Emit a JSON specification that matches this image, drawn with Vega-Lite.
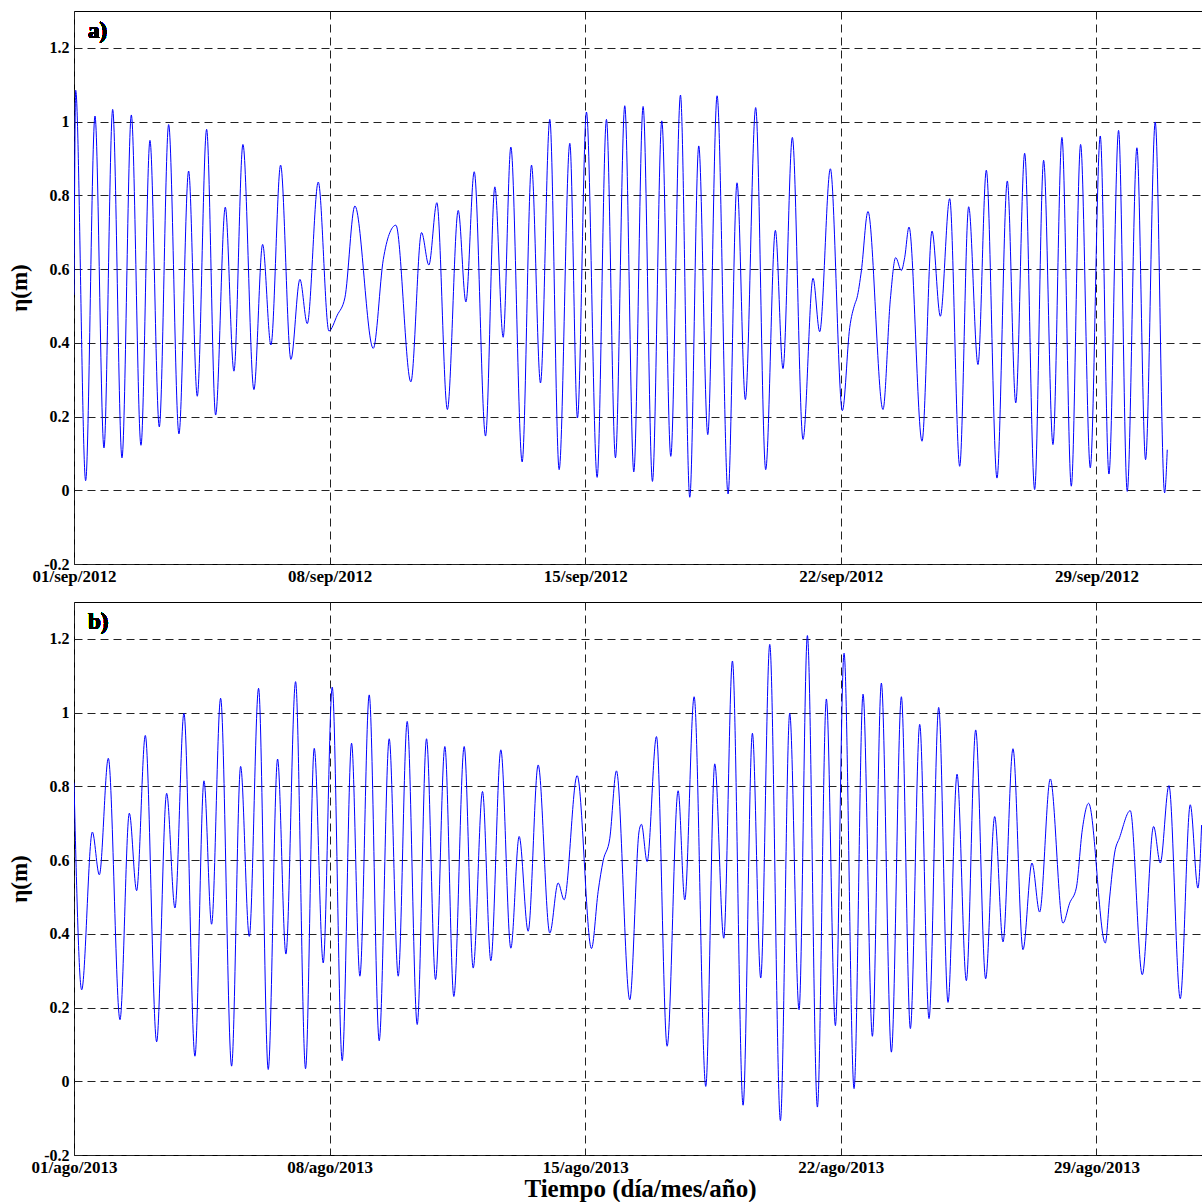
{
  "$schema": "https://vega.github.io/schema/vega-lite/v6.json",
  "padding": {"left": 8, "top": 10, "right": 0, "bottom": 0},
  "bounds": "flush",
  "spacing": 38,
  "background": "white",
  "config": {
    "view": {"stroke": "black", "strokeWidth": 1},
    "font": "Liberation Serif",
    "axis": {
      "labelFont": "Liberation Serif", "labelFontWeight": "bold", "labelFontSize": 16, "labelColor": "black",
      "titleFont": "Liberation Serif", "titleFontWeight": "bold", "titleFontSize": 23, "titleColor": "black",
      "grid": true, "gridColor": "#222", "gridDash": [8, 5], "gridWidth": 1,
      "domain": false, "ticks": false, "labelFlush": false, "labelOverlap": false
    },
    "axisX": {"labelPadding": 4, "titlePadding": 1, "titleFontSize": 25, "labelFontSize": 17, "labelFontWeight": "bold", "labelFont": "Liberation Serif"},
    "axisY": {"labelPadding": 5, "titlePadding": 12, "labelFontSize": 16, "labelFontWeight": "bold", "labelFont": "Liberation Serif"}
  },
  "datasets": {
    "a": [
      {"dia": 1.000, "eta": 0.53}, {"dia": 1.046, "eta": 1.085}, {"dia": 1.319, "eta": 0.026}, {"dia": 1.575, "eta": 1.015},
      {"dia": 1.821, "eta": 0.115}, {"dia": 2.059, "eta": 1.033}, {"dia": 2.314, "eta": 0.088}, {"dia": 2.570, "eta": 1.018},
      {"dia": 2.834, "eta": 0.122}, {"dia": 3.080, "eta": 0.949}, {"dia": 3.336, "eta": 0.172}, {"dia": 3.592, "eta": 0.992},
      {"dia": 3.874, "eta": 0.153}, {"dia": 4.139, "eta": 0.866}, {"dia": 4.376, "eta": 0.255}, {"dia": 4.632, "eta": 0.979},
      {"dia": 4.878, "eta": 0.204}, {"dia": 5.143, "eta": 0.768}, {"dia": 5.380, "eta": 0.323}, {"dia": 5.626, "eta": 0.938},
      {"dia": 5.927, "eta": 0.273}, {"dia": 6.165, "eta": 0.667}, {"dia": 6.393, "eta": 0.394}, {"dia": 6.658, "eta": 0.882},
      {"dia": 6.940, "eta": 0.355}, {"dia": 7.187, "eta": 0.572}, {"dia": 7.388, "eta": 0.452}, {"dia": 7.689, "eta": 0.836},
      {"dia": 7.981, "eta": 0.432}, {"dia": 8.210, "eta": 0.475}, {"dia": 8.418, "eta": 0.522}, {"dia": 8.692, "eta": 0.771},
      {"dia": 9.195, "eta": 0.385}, {"dia": 9.470, "eta": 0.626}, {"dia": 9.630, "eta": 0.694}, {"dia": 9.815, "eta": 0.719},
      {"dia": 10.225, "eta": 0.294}, {"dia": 10.517, "eta": 0.699}, {"dia": 10.718, "eta": 0.611}, {"dia": 10.937, "eta": 0.780},
      {"dia": 11.225, "eta": 0.219}, {"dia": 11.522, "eta": 0.759}, {"dia": 11.732, "eta": 0.511}, {"dia": 11.960, "eta": 0.864},
      {"dia": 12.270, "eta": 0.147}, {"dia": 12.525, "eta": 0.823}, {"dia": 12.753, "eta": 0.415}, {"dia": 12.963, "eta": 0.931},
      {"dia": 13.273, "eta": 0.077}, {"dia": 13.529, "eta": 0.882}, {"dia": 13.775, "eta": 0.291}, {"dia": 14.030, "eta": 1.006},
      {"dia": 14.286, "eta": 0.056}, {"dia": 14.578, "eta": 0.941}, {"dia": 14.788, "eta": 0.196}, {"dia": 15.034, "eta": 1.026},
      {"dia": 15.326, "eta": 0.035}, {"dia": 15.581, "eta": 1.006}, {"dia": 15.828, "eta": 0.088}, {"dia": 16.083, "eta": 1.043},
      {"dia": 16.330, "eta": 0.050}, {"dia": 16.585, "eta": 1.041}, {"dia": 16.841, "eta": 0.024}, {"dia": 17.097, "eta": 1.002},
      {"dia": 17.343, "eta": 0.092}, {"dia": 17.608, "eta": 1.072}, {"dia": 17.863, "eta": -0.019}, {"dia": 18.109, "eta": 0.934},
      {"dia": 18.356, "eta": 0.151}, {"dia": 18.611, "eta": 1.070}, {"dia": 18.912, "eta": -0.010}, {"dia": 19.157, "eta": 0.834},
      {"dia": 19.385, "eta": 0.246}, {"dia": 19.668, "eta": 1.038}, {"dia": 19.942, "eta": 0.056}, {"dia": 20.207, "eta": 0.705},
      {"dia": 20.416, "eta": 0.330}, {"dia": 20.672, "eta": 0.957}, {"dia": 20.964, "eta": 0.138}, {"dia": 21.238, "eta": 0.575},
      {"dia": 21.421, "eta": 0.430}, {"dia": 21.713, "eta": 0.872}, {"dia": 22.042, "eta": 0.216}, {"dia": 22.243, "eta": 0.441},
      {"dia": 22.380, "eta": 0.504}, {"dia": 22.443, "eta": 0.522}, {"dia": 22.562, "eta": 0.595}, {"dia": 22.743, "eta": 0.756},
      {"dia": 23.154, "eta": 0.219}, {"dia": 23.356, "eta": 0.518}, {"dia": 23.502, "eta": 0.631}, {"dia": 23.657, "eta": 0.596},
      {"dia": 23.748, "eta": 0.631}, {"dia": 23.867, "eta": 0.714}, {"dia": 24.223, "eta": 0.133}, {"dia": 24.497, "eta": 0.703},
      {"dia": 24.725, "eta": 0.472}, {"dia": 24.981, "eta": 0.791}, {"dia": 25.255, "eta": 0.065}, {"dia": 25.501, "eta": 0.769},
      {"dia": 25.756, "eta": 0.341}, {"dia": 25.984, "eta": 0.868}, {"dia": 26.276, "eta": 0.033}, {"dia": 26.559, "eta": 0.839},
      {"dia": 26.790, "eta": 0.237}, {"dia": 27.034, "eta": 0.914}, {"dia": 27.307, "eta": 0.002}, {"dia": 27.553, "eta": 0.895},
      {"dia": 27.809, "eta": 0.124}, {"dia": 28.055, "eta": 0.957}, {"dia": 28.311, "eta": 0.011}, {"dia": 28.566, "eta": 0.938},
      {"dia": 28.831, "eta": 0.061}, {"dia": 29.104, "eta": 0.961}, {"dia": 29.342, "eta": 0.044}, {"dia": 29.606, "eta": 0.976},
      {"dia": 29.843, "eta": -0.003}, {"dia": 30.108, "eta": 0.929}, {"dia": 30.345, "eta": 0.083}, {"dia": 30.610, "eta": 0.999},
      {"dia": 30.866, "eta": -0.007}, {"dia": 30.939, "eta": 0.110}
    ],
    "b": [
      {"dia": 1.000, "eta": 0.81}, {"dia": 1.210, "eta": 0.248}, {"dia": 1.502, "eta": 0.676}, {"dia": 1.694, "eta": 0.560},
      {"dia": 1.940, "eta": 0.876}, {"dia": 2.259, "eta": 0.167}, {"dia": 2.515, "eta": 0.727}, {"dia": 2.715, "eta": 0.517},
      {"dia": 2.953, "eta": 0.938}, {"dia": 3.263, "eta": 0.107}, {"dia": 3.537, "eta": 0.781}, {"dia": 3.765, "eta": 0.470},
      {"dia": 4.011, "eta": 0.998}, {"dia": 4.312, "eta": 0.068}, {"dia": 4.559, "eta": 0.815}, {"dia": 4.768, "eta": 0.426},
      {"dia": 5.015, "eta": 1.039}, {"dia": 5.316, "eta": 0.041}, {"dia": 5.563, "eta": 0.854}, {"dia": 5.800, "eta": 0.393},
      {"dia": 6.055, "eta": 1.066}, {"dia": 6.319, "eta": 0.032}, {"dia": 6.575, "eta": 0.874}, {"dia": 6.803, "eta": 0.345},
      {"dia": 7.068, "eta": 1.084}, {"dia": 7.341, "eta": 0.034}, {"dia": 7.579, "eta": 0.903}, {"dia": 7.825, "eta": 0.321},
      {"dia": 8.072, "eta": 1.069}, {"dia": 8.345, "eta": 0.056}, {"dia": 8.601, "eta": 0.917}, {"dia": 8.829, "eta": 0.285},
      {"dia": 9.085, "eta": 1.048}, {"dia": 9.358, "eta": 0.110}, {"dia": 9.632, "eta": 0.929}, {"dia": 9.879, "eta": 0.285},
      {"dia": 10.125, "eta": 0.976}, {"dia": 10.399, "eta": 0.154}, {"dia": 10.654, "eta": 0.929}, {"dia": 10.901, "eta": 0.276},
      {"dia": 11.156, "eta": 0.908}, {"dia": 11.402, "eta": 0.230}, {"dia": 11.685, "eta": 0.908}, {"dia": 11.932, "eta": 0.307},
      {"dia": 12.187, "eta": 0.786}, {"dia": 12.415, "eta": 0.327}, {"dia": 12.689, "eta": 0.899}, {"dia": 12.963, "eta": 0.361},
      {"dia": 13.191, "eta": 0.664}, {"dia": 13.437, "eta": 0.407}, {"dia": 13.711, "eta": 0.858}, {"dia": 14.030, "eta": 0.402},
      {"dia": 14.258, "eta": 0.538}, {"dia": 14.423, "eta": 0.492}, {"dia": 14.779, "eta": 0.829}, {"dia": 15.171, "eta": 0.360},
      {"dia": 15.354, "eta": 0.515}, {"dia": 15.491, "eta": 0.598}, {"dia": 15.673, "eta": 0.659}, {"dia": 15.855, "eta": 0.842},
      {"dia": 16.220, "eta": 0.221}, {"dia": 16.476, "eta": 0.679}, {"dia": 16.540, "eta": 0.697}, {"dia": 16.695, "eta": 0.596},
      {"dia": 16.951, "eta": 0.935}, {"dia": 17.243, "eta": 0.095}, {"dia": 17.544, "eta": 0.788}, {"dia": 17.726, "eta": 0.492},
      {"dia": 17.982, "eta": 1.043}, {"dia": 18.301, "eta": -0.014}, {"dia": 18.547, "eta": 0.861}, {"dia": 18.794, "eta": 0.388},
      {"dia": 19.031, "eta": 1.140}, {"dia": 19.323, "eta": -0.065}, {"dia": 19.578, "eta": 0.944}, {"dia": 19.806, "eta": 0.280},
      {"dia": 20.053, "eta": 1.185}, {"dia": 20.345, "eta": -0.107}, {"dia": 20.600, "eta": 0.998}, {"dia": 20.856, "eta": 0.194},
      {"dia": 21.084, "eta": 1.209}, {"dia": 21.358, "eta": -0.070}, {"dia": 21.604, "eta": 1.037}, {"dia": 21.851, "eta": 0.151},
      {"dia": 22.088, "eta": 1.161}, {"dia": 22.362, "eta": -0.020}, {"dia": 22.608, "eta": 1.050}, {"dia": 22.864, "eta": 0.122},
      {"dia": 23.110, "eta": 1.080}, {"dia": 23.384, "eta": 0.079}, {"dia": 23.658, "eta": 1.043}, {"dia": 23.904, "eta": 0.143},
      {"dia": 24.160, "eta": 0.968}, {"dia": 24.415, "eta": 0.170}, {"dia": 24.680, "eta": 1.014}, {"dia": 24.935, "eta": 0.214},
      {"dia": 25.182, "eta": 0.833}, {"dia": 25.437, "eta": 0.273}, {"dia": 25.693, "eta": 0.953}, {"dia": 25.966, "eta": 0.278},
      {"dia": 26.213, "eta": 0.718}, {"dia": 26.441, "eta": 0.378}, {"dia": 26.714, "eta": 0.902}, {"dia": 26.988, "eta": 0.357},
      {"dia": 27.234, "eta": 0.592}, {"dia": 27.444, "eta": 0.459}, {"dia": 27.736, "eta": 0.820}, {"dia": 28.083, "eta": 0.429},
      {"dia": 28.265, "eta": 0.483}, {"dia": 28.448, "eta": 0.524}, {"dia": 28.612, "eta": 0.682}, {"dia": 28.785, "eta": 0.754},
      {"dia": 29.242, "eta": 0.375}, {"dia": 29.360, "eta": 0.497}, {"dia": 29.497, "eta": 0.619}, {"dia": 29.634, "eta": 0.661},
      {"dia": 29.926, "eta": 0.734}, {"dia": 30.255, "eta": 0.289}, {"dia": 30.565, "eta": 0.691}, {"dia": 30.748, "eta": 0.592},
      {"dia": 30.985, "eta": 0.802}, {"dia": 31.295, "eta": 0.224}, {"dia": 31.569, "eta": 0.750}, {"dia": 31.779, "eta": 0.524},
      {"dia": 31.879, "eta": 0.695}
    ]
  },
  "vconcat": [
    {
      "width": 1132, "height": 553,
      "data": {"name": "a"},
      "layer": [
        {
          "mark": {"type": "line", "color": "#0000ff", "strokeWidth": 1, "interpolate": "monotone", "clip": true},
          "encoding": {
            "x": {"field": "dia", "type": "quantitative", "scale": {"domain": [1, 32], "nice": false, "zero": false},
                  "axis": {"values": [1, 8, 15, 22, 29], "labelExpr": "(datum.value < 10 ? '0' : '') + datum.value + '/sep/2012'", "title": null}},
            "y": {"field": "eta", "type": "quantitative", "scale": {"domain": [-0.2, 1.3], "nice": false, "zero": false},
                  "axis": {"values": [-0.2, 0, 0.2, 0.4, 0.6, 0.8, 1, 1.2], "labelExpr": "datum.value < 0 ? '-' + format(-datum.value, '.1~f') : format(datum.value, '.1~f')", "title": "η(m)"}}
          }
        },
        {
          "mark": {"type": "text", "text": "a)", "fontSize": 23, "fontWeight": "bold", "font": "Liberation Serif", "align": "left", "baseline": "middle", "color": "black"},
          "encoding": {"x": {"datum": 1.38}, "y": {"datum": 1.245}}
        }
      ]
    },
    {
      "width": 1132, "height": 553,
      "data": {"name": "b"},
      "layer": [
        {
          "mark": {"type": "line", "color": "#0000ff", "strokeWidth": 1, "interpolate": "monotone", "clip": true},
          "encoding": {
            "x": {"field": "dia", "type": "quantitative", "scale": {"domain": [1, 32], "nice": false, "zero": false},
                  "axis": {"values": [1, 8, 15, 22, 29], "labelExpr": "(datum.value < 10 ? '0' : '') + datum.value + '/ago/2013'", "title": "Tiempo (día/mes/año)"}},
            "y": {"field": "eta", "type": "quantitative", "scale": {"domain": [-0.2, 1.3], "nice": false, "zero": false},
                  "axis": {"values": [-0.2, 0, 0.2, 0.4, 0.6, 0.8, 1, 1.2], "labelExpr": "datum.value < 0 ? '-' + format(-datum.value, '.1~f') : format(datum.value, '.1~f')", "title": "η(m)"}}
          }
        },
        {
          "mark": {"type": "text", "text": "b)", "fontSize": 23, "fontWeight": "bold", "font": "Liberation Serif", "align": "left", "baseline": "middle", "color": "black"},
          "encoding": {"x": {"datum": 1.38}, "y": {"datum": 1.245}}
        }
      ]
    }
  ]
}
